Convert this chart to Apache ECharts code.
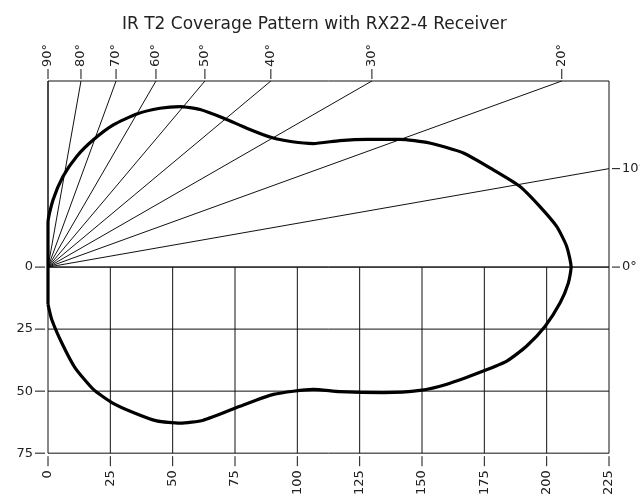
<!DOCTYPE html>
<html><head><meta charset="utf-8">
<script src="https://cdn.jsdelivr.net/npm/echarts@6/dist/echarts.min.js"></script>
<style>html,body{margin:0;padding:0;background:#fff}#c{width:640px;height:498px}</style>
</head><body><div id="c"></div>
<script>
const chartTitle = 'IR T2 Coverage Pattern with RX22-4 Receiver';
const xTicks = [0, 25, 50, 75, 100, 125, 150, 175, 200, 225];
const yTicksLower = [0, -25, -50, -75];
const gridXLines = [25, 50, 75, 100, 125, 150, 175, 200];
const gridYLines = [0, -25, -50];
const angles = [90, 80, 70, 60, 50, 40, 30, 20, 10, 0];
const X_MAX = 225, Y_MIN = -75, Y_MAX = 75;

// coverage pattern outline (x = distance, y = lateral offset)
const patternX = [0, 0, 0, 2, 6, 11.5, 18.2, 26.2, 35.6, 44.9, 52.9, 61, 70.5, 79.7, 89.7, 98, 106.4, 117, 128, 141, 153, 166.6, 178.6, 189.3, 197.3, 204, 208, 209.8, 208.7, 205.4, 199.4, 192, 184, 174.6, 160, 149.2, 134.5, 117, 106.4, 90.4, 77, 62.3, 52.9, 43.6, 34.2, 25.6, 18.2, 10.8, 5.5, 1.5, 0];
const patternY = [-15, 0, 18, 27, 36.5, 44.6, 51.3, 57.3, 61.7, 64, 64.7, 63.5, 60, 56, 52.2, 50.5, 49.8, 51, 51.5, 51.5, 50, 46, 39.2, 32.5, 24.4, 16.4, 8.4, 0, -6.4, -14.4, -23.8, -31.8, -37.9, -41.9, -47.2, -49.7, -50.6, -50.2, -49.3, -51.3, -56.1, -61.7, -62.9, -62, -58.6, -54.6, -49.3, -40.5, -30.5, -21.1, -15];

const FONT = '"DejaVu Sans", sans-serif';
const LINE = '#111';
const TXT = '#222';

function angleEnd(a) {
  if (a === 90) return [0, Y_MAX];
  const t = Math.tan(a * Math.PI / 180);
  if (X_MAX * t <= Y_MAX) return [X_MAX, X_MAX * t];
  return [Y_MAX / t, Y_MAX];
}

function seg(ch, x1, y1, x2, y2) {
  ch.push({type: 'line', shape: {x1, y1, x2, y2}, style: {stroke: LINE, lineWidth: 1}});
}

function renderDecor(params, api) {
  const ch = [];
  const o = api.coord([0, 0]);
  gridXLines.forEach(v => {
    const p1 = api.coord([v, 0]), p2 = api.coord([v, Y_MIN]);
    seg(ch, p1[0], p1[1], p2[0], p2[1]);
  });
  gridYLines.forEach(v => {
    const p1 = api.coord([0, v]), p2 = api.coord([X_MAX, v]);
    seg(ch, p1[0], p1[1], p2[0], p2[1]);
  });
  xTicks.forEach(v => {
    const p = api.coord([v, Y_MIN]);
    seg(ch, p[0], p[1] + 3, p[0], p[1] + 13);
  });
  yTicksLower.forEach(v => {
    const p = api.coord([0, v]);
    seg(ch, p[0] - 3, p[1], p[0] - 13, p[1]);
  });
  angles.forEach(a => {
    const e = angleEnd(a);
    const p = api.coord(e);
    seg(ch, o[0], o[1], p[0], p[1]);
    const label = a + '°';
    if (e[1] >= Y_MAX - 1e-9) {
      seg(ch, p[0], p[1] - 2, p[0], p[1] - 12);
      ch.push({type: 'text', x: p[0], y: p[1] - 14, rotation: Math.PI / 2,
        style: {text: label, x: 0, y: 0, align: 'left', verticalAlign: 'middle', font: '13px ' + FONT, fill: TXT}});
    } else {
      seg(ch, p[0] + 3, p[1], p[0] + 11, p[1]);
      ch.push({type: 'text', x: p[0] + 13, y: p[1],
        style: {text: label, x: 0, y: 0, align: 'left', verticalAlign: 'middle', font: '13px ' + FONT, fill: TXT}});
    }
  });
  return {type: 'group', children: ch};
}

const chart = echarts.init(document.getElementById('c'), null, {renderer: 'canvas'});
chart.setOption({
  animation: false,
  backgroundColor: '#fff',
  title: {text: chartTitle, left: 117, top: 11,
    textStyle: {fontFamily: FONT, fontSize: 17, fontWeight: 'normal', color: TXT}},
  grid: {left: 48, right: 31, top: 81, bottom: 44, show: true, borderColor: LINE, borderWidth: 1, backgroundColor: 'transparent'},
  xAxis: {
    type: 'value', min: 0, max: X_MAX, interval: 25,
    axisLine: {show: false},
    axisTick: {show: false},
    axisLabel: {rotate: 90, margin: 17, fontFamily: FONT, fontSize: 13, color: TXT,
      customValues: xTicks},
    splitLine: {show: false}
  },
  yAxis: {
    type: 'value', min: Y_MIN, max: Y_MAX, interval: 25,
    axisLine: {show: false},
    axisTick: {show: false},
    axisLabel: {margin: 15, fontFamily: FONT, fontSize: 13, color: TXT, customValues: yTicksLower,
      formatter: v => (v > 0 ? '' : String(Math.abs(v)))},
    splitLine: {show: false}
  },
  series: [
    {type: 'custom', data: [0], renderItem: renderDecor, clip: false, silent: true, z: 1},
    {type: 'line', data: patternX.map((x, i) => [x, patternY[i]]), showSymbol: false, symbol: 'none',
      lineStyle: {color: '#000', width: 3.2}, z: 5, smooth: 0.2, silent: true}
  ]
});
</script></body></html>
